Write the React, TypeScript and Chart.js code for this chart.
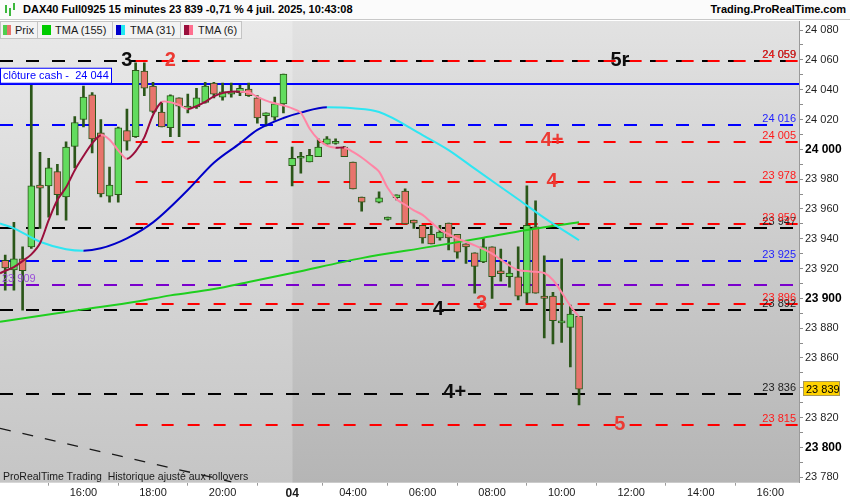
import React, { useEffect, useRef } from 'react';
import { Chart, registerables } from 'chart.js';

Chart.register(...registerables);

const FONT = '"Liberation Sans", Arial, sans-serif';

// 15 min candles, index 0 = 3 juil. 13:45 ... index 66 = 4 juil. 10:30 (42 = no quote)
const opens = [23925.5, 23919, 23926.5, 23934.5, 23976, 23975.5, 23985, 23968, 24002, 24020, 24036.5, 24011, 23968.5, 23969.5, 24012.5, 24008.5, 24052.5, 24042.5, 24025, 24014.5, 24034.5, 24027.5, 24028.5, 24031.5, 24044.5, 24035, 24037, 24038, 24040.5, 24034.5, 24022.5, 24021.5, 24030.5, 23989, 23994, 23991.5, 23995, 24003.5, 24004, 24001.5, 23991.5, 23968, null, 23964.5, 23953, 23967.5, 23972, 23952.5, 23949, 23943, 23940.5, 23950.5, 23943, 23936.5, 23930.5, 23924.5, 23934.5, 23918.5, 23914.5, 23914.5, 23903.5, 23948, 23901.5, 23901.5, 23883.5, 23880.5, 23888];
const highs = [23929, 23951, 23934.5, 24043, 23998, 23994, 23990, 24005, 24022, 24042.5, 24038, 24020, 23988, 24015, 24027, 24058, 24058, 24045, 24031, 24036.5, 24034.5, 24037, 24041, 24045, 24045, 24044.5, 24044.5, 24043, 24044.5, 24036, 24024.5, 24035, 24050.5, 24001.5, 23998, 24000, 24007, 24008.5, 24007, 24002, 23991.5, 23968, null, 23971.5, 23954.5, 23969.5, 23973.5, 23952.5, 23949, 23948.5, 23949, 23950.5, 23943, 23936.5, 23930.5, 23941, 23934.5, 23933, 23924.5, 23934.5, 23975.5, 23965.5, 23928.5, 23904, 23926.5, 23895.5, 23888];
const lows = [23905.5, 23905.5, 23892, 23933.5, 23947, 23954.5, 23956, 23952.5, 23987.5, 24015, 23997.5, 23968, 23964.5, 23964.5, 23999.5, 24008, 24036, 24024.5, 24015, 24008.5, 24008.5, 24024.5, 24027.5, 24031, 24034.5, 24033, 24035, 24036, 24035.5, 24017.5, 24015.5, 24019.5, 24024.5, 23975.5, 23984, 23991.5, 23995, 24003.5, 24003.5, 23995, 23973.5, 23958.5, null, 23964, 23952.5, 23966, 23950, 23947, 23937, 23936.5, 23939, 23932.5, 23927, 23923.5, 23903.5, 23924, 23900, 23911.5, 23907.5, 23899, 23897, 23903.5, 23873.5, 23869.5, 23870.5, 23854, 23828.5];
const closes = [23920.5, 23926.5, 23918.5, 23975.5, 23974, 23987.5, 23969.5, 24001.5, 24018, 24035, 24007, 23970, 23976, 24014.5, 24005.5, 24053, 24041, 24025.5, 24015, 24036, 24029, 24029, 24034.5, 24042.5, 24037, 24038.5, 24039, 24041, 24036, 24021, 24024.5, 24030.5, 24050.5, 23994, 23994, 23996, 24001.5, 24007, 24004, 23995, 23973.5, 23964.5, null, 23967.5, 23954.5, 23969.5, 23950, 23950.5, 23940.5, 23936.5, 23944.5, 23940.5, 23931, 23934.5, 23921.5, 23934.5, 23914.5, 23916.5, 23917, 23901.5, 23949, 23903.5, 23900, 23885, 23883.5, 23889.5, 23839];

// moving averages (x = candle index)
const tma155Idx = [-0.6, 0, 9, 15, 19, 24, 28, 33, 41, 49, 55, 60, 66];
const tma155 = [23884.3, 23884.8, 23892.6, 23897.7, 23902, 23906.3, 23911, 23917, 23927, 23934.7, 23940.7, 23945.8, 23951.1];
const tma31Idx = [-0.6, 1, 4, 7, 9, 11, 14, 17, 21, 24, 27, 29, 32, 34, 37, 40, 43, 48, 51, 54, 59, 62, 66];
const tma31 = [23950.3, 23947, 23938, 23933, 23932, 23933.6, 23940.3, 23951, 23972.7, 23991, 24004, 24013, 24021, 24024.6, 24028.2, 24027.5, 24025, 24009.5, 23999.5, 23987, 23966.5, 23954, 23939];
const tma6Edge = 23916.8;
const tma6 = [23918.5, 23921, 23925, 23929.5, 23937, 23952.5, 23966, 23974.5, 23986, 23995.5, 24004, 24009.5, 24006.5, 23999.3, 23993.6, 23998.6, 24008, 24023, 24031.8, 24031.6, 24029.7, 24027, 24029, 24031.9, 24035.5, 24037.8, 24038.6, 24038.7, 24038.3, 24035.2, 24032.7, 24030.9, 24029.4, 24027.5, 24024.5, 24014, 24006.7, 24002.5, 24001, 24001.2, 23998.3, 23994.5, 23990, 23985, 23974, 23966.5, 23962.8, 23959, 23956, 23951, 23946, 23943, 23940, 23938, 23935.5, 23933, 23930, 23926, 23922, 23919, 23918.3, 23917.8, 23917, 23912.3, 23904, 23895, 23887.5];

const trendIdx = [-0.6, 26];
const trendVal = [23812.8, 23776.9];

const timeTickIdx = [9, 17, 25, 33, 40, 48, 56, 64, 72, 80, 88];
const timeTickLabels = ['16:00', '18:00', '20:00', '04', '04:00', '06:00', '08:00', '10:00', '12:00', '14:00', '16:00'];

const blackLevels = [24059, 23947, 23892, 23836];
const redLevels = [24059, 24005, 23978, 23950, 23896, 23815];
const blueLevels = [24016, 23925];
const purpleLevels = [23909];
const cashClose = 24044;
const lastPrice = 23839;
const redStartIdx = 15;
const dayStartIdx = 33;

const waveText = ['3', '2', '5r', '4+', '4', '3', '4', '4+', '5'];
const waveIdx = [14, 19, 70.7, 62.9, 62.9, 54.8, 49.8, 51.7, 70.7];
const waveLevel = [24059, 24059, 24059, 24005, 23978, 23896, 23892, 23836, 23815];
const waveRed = [false, true, false, true, true, true, false, false, true];

const fmt = (v: number) => Math.round(v).toString().replace(/\B(?=(\d{3})+(?!\d))/g, ' ');

const bgPlugin = {
    id: 'bg',
    beforeDraw(chart: any) {
        const { ctx, chartArea: a, scales } = chart;
        ctx.save();
        ctx.fillStyle = '#ffffff';
        ctx.fillRect(0, 0, chart.width, chart.height);
        const xd = scales.x.getPixelForValue(dayStartIdx);
        const g1 = ctx.createLinearGradient(0, a.top, 0, a.bottom);
        g1.addColorStop(0, '#e9e9e9');
        g1.addColorStop(1, '#c5c5c5');
        ctx.fillStyle = g1;
        ctx.fillRect(a.left, a.top, xd - a.left, a.bottom - a.top);
        const g2 = ctx.createLinearGradient(0, a.top, 0, a.bottom);
        g2.addColorStop(0, '#e2e2e2');
        g2.addColorStop(1, '#b5b5b5');
        ctx.fillStyle = g2;
        ctx.fillRect(xd, a.top, a.right - xd, a.bottom - a.top);
        ctx.restore();
    }
};

const levelsPlugin = {
    id: 'levels',
    beforeDatasetsDraw(chart: any) {
        const { ctx, chartArea: a, scales } = chart;
        const y = scales.y;
        const line = (v: number, x0: number, color: string, dash: number[]) => {
            const py = Math.round(y.getPixelForValue(v));
            ctx.strokeStyle = color;
            ctx.setLineDash(dash);
            ctx.beginPath();
            ctx.moveTo(x0, py);
            ctx.lineTo(a.right, py);
            ctx.stroke();
        };
        ctx.save();
        ctx.lineWidth = 2;
        blackLevels.forEach(v => line(v, a.left, '#000000', [13, 13]));
        blueLevels.forEach(v => line(v, a.left, '#0000ff', [13, 13]));
        purpleLevels.forEach(v => line(v, a.left, '#7a00cc', [13, 13]));
        const xr = scales.x.getPixelForValue(redStartIdx);
        redLevels.forEach(v => line(v, xr, '#ff0000', [12, 14]));
        line(cashClose, a.left, '#0000ff', []);
        ctx.restore();
    }
};

const annotPlugin = {
    id: 'annot',
    afterDraw(chart: any) {
        const { ctx, chartArea: a, scales } = chart;
        const x = scales.x;
        const y = scales.y;
        ctx.save();
        // value labels at the right end of the levels
        ctx.font = `11px ${FONT}`;
        ctx.textAlign = 'right';
        ctx.textBaseline = 'alphabetic';
        const rLabel = (v: number, color: string) => {
            ctx.fillStyle = color;
            ctx.fillText(fmt(v), a.right - 3, y.getPixelForValue(v) - 3);
        };
        blackLevels.forEach(v => rLabel(v, '#1e1e1e'));
        blueLevels.forEach(v => rLabel(v, '#1f1fff'));
        redLevels.forEach(v => rLabel(v, '#ff1a1a'));
        ctx.textAlign = 'left';
        purpleLevels.forEach(v => {
            ctx.fillStyle = '#9a4fd8';
            ctx.fillText(fmt(v), 2, y.getPixelForValue(v) - 3);
        });

        // cash close box
        const yc = y.getPixelForValue(cashClose);
        ctx.fillStyle = '#ffffff';
        ctx.fillRect(0.5, yc - 15.5, 111, 15);
        ctx.strokeStyle = '#0000ff';
        ctx.lineWidth = 1;
        ctx.strokeRect(0.5, yc - 15.5, 111, 15);
        ctx.fillStyle = '#0000ff';
        ctx.font = `11px ${FONT}`;
        ctx.textBaseline = 'middle';
        ctx.fillText('cl\u00f4ture cash -  ' + fmt(cashClose), 3, yc - 7.5);

        // wave labels
        ctx.font = `bold 20px ${FONT}`;
        ctx.textAlign = 'center';
        waveText.forEach((t, k) => {
            ctx.fillStyle = waveRed[k] ? '#ec3a33' : '#0d0d0d';
            ctx.fillText(t, x.getPixelForValue(waveIdx[k]), y.getPixelForValue(waveLevel[k]) - 1);
        });

        // last price tag on the axis
        const yp = y.getPixelForValue(lastPrice);
        ctx.fillStyle = '#ffd200';
        ctx.fillRect(803.5, Math.round(yp) - 7.5, 36, 14);
        ctx.strokeStyle = '#a8985a';
        ctx.strokeRect(803.5, Math.round(yp) - 7.5, 36, 14);
        ctx.fillStyle = '#000000';
        ctx.font = `11px ${FONT}`;
        ctx.textAlign = 'left';
        ctx.fillText(fmt(lastPrice), 806, Math.round(yp) + 0.5);
        ctx.restore();
    }
};

const tab = (left: number, width: number): React.CSSProperties => ({
    position: 'absolute', left, top: 21, width, height: 18, boxSizing: 'border-box',
    background: '#f3f3f3', border: '1px solid #c4c4c4', font: `11px ${FONT}`, color: '#1a1a1a', lineHeight: '16px'
});
const sw = (left: number, width: number, color: string): React.CSSProperties => ({
    position: 'absolute', left, top: 3, width, height: 10, background: color
});

export default function App() {
    const canvasRef = useRef<HTMLCanvasElement>(null);

    useEffect(() => {
        if (!canvasRef.current) return;
        const idx = opens.map((o, i) => i).filter(i => opens[i] !== null);
        const up = (i: number) => (closes[i] as number) >= (opens[i] as number);

        const chart = new Chart(canvasRef.current, {
            type: 'bar',
            data: {
                datasets: [
                    {
                        type: 'line',
                        data: [{ x: -0.6, y: tma6Edge }].concat(tma6.map((v, i) => ({ x: i, y: v }))),
                        borderWidth: 2,
                        pointRadius: 0,
                        tension: 0.3,
                        borderColor: '#ff85a5',
                        segment: { borderColor: (s: any) => (s.p1.parsed.y >= s.p0.parsed.y ? '#9a0f3c' : '#ff85a5') },
                        order: 0
                    } as any,
                    {
                        type: 'line',
                        data: tma31Idx.map((v, k) => ({ x: v, y: tma31[k] })),
                        borderWidth: 2,
                        pointRadius: 0,
                        cubicInterpolationMode: 'monotone',
                        borderColor: '#2ee6f2',
                        segment: { borderColor: (s: any) => (s.p1.parsed.y >= s.p0.parsed.y ? '#0000c8' : '#2ee6f2') },
                        order: 0
                    } as any,
                    {
                        type: 'line',
                        data: tma155Idx.map((v, k) => ({ x: v, y: tma155[k] })),
                        borderWidth: 2,
                        pointRadius: 0,
                        cubicInterpolationMode: 'monotone',
                        borderColor: '#1ecf1e',
                        order: 0
                    } as any,
                    {
                        type: 'line',
                        data: trendIdx.map((v, k) => ({ x: v, y: trendVal[k] })),
                        borderWidth: 1.3,
                        borderDash: [11, 12],
                        pointRadius: 0,
                        borderColor: '#1a1a1a',
                        order: 0
                    } as any,
                    {
                        type: 'bar',
                        data: idx.map(i => ({ x: i, y: [opens[i], closes[i]] })),
                        backgroundColor: idx.map(i => (up(i) ? '#62dc5e' : '#e8746c')),
                        borderColor: '#2b5619',
                        borderWidth: 1,
                        borderSkipped: false,
                        barThickness: 7,
                        minBarLength: 2,
                        grouped: false,
                        order: 2
                    } as any,
                    {
                        type: 'bar',
                        data: idx.map(i => ({ x: i, y: [lows[i], highs[i]] })),
                        backgroundColor: '#2b5619',
                        borderWidth: 0,
                        barThickness: 2,
                        grouped: false,
                        order: 3
                    } as any
                ]
            },
            options: {
                animation: false,
                responsive: false,
                events: [],
                layout: { padding: { top: 21, left: 0, right: 0, bottom: 0 } },
                plugins: { legend: { display: false }, tooltip: { enabled: false } },
                scales: {
                    x: {
                        type: 'linear',
                        min: -0.6,
                        max: 91.3,
                        offset: false,
                        afterBuildTicks: (s: any) => { s.ticks = timeTickIdx.map(v => ({ value: v })); },
                        afterFit: (s: any) => { s.height = 17.3; },
                        ticks: {
                            autoSkip: false,
                            maxRotation: 0,
                            padding: 1,
                            color: '#1a1a1a',
                            font: (c: any) => (c.tick && c.tick.value === dayStartIdx ? { family: FONT, size: 12, weight: 'bold' } : { family: FONT, size: 11 }),
                            callback: (v: any) => timeTickLabels[timeTickIdx.indexOf(v)] ?? ''
                        },
                        grid: { drawOnChartArea: false, tickLength: 3, color: '#9a9a9a' },
                        border: { display: false }
                    },
                    y: {
                        type: 'linear',
                        position: 'right',
                        min: 23776.3,
                        max: 24086.1,
                        afterFit: (s: any) => { s.width = 51; },
                        ticks: {
                            stepSize: 10,
                            includeBounds: false,
                            autoSkip: false,
                            padding: 2,
                            color: (c: any) => (c.tick && c.tick.value % 100 === 0 ? '#000000' : '#1e1e1e'),
                            font: (c: any) => (c.tick && c.tick.value % 100 === 0 ? { family: FONT, size: 12, weight: 'bold' } : { family: FONT, size: 11 }),
                            callback: (v: any) => (Math.round(v) % 20 === 0 ? fmt(v) : '')
                        },
                        grid: { drawOnChartArea: false, tickLength: 4, color: '#8c8c8c' },
                        border: { color: '#9a9a9a' }
                    }
                }
            } as any,
            plugins: [bgPlugin, levelsPlugin, annotPlugin]
        });

        return () => {
            chart.destroy();
        };
    }, []);

    return (
        <div style={{ position: 'fixed', left: 0, top: 0, width: 850, height: 500, overflow: 'hidden', background: '#fff' }}>
            <canvas ref={canvasRef} width={850} height={500} style={{ display: 'block' }}></canvas>
            <div style={{ position: 'absolute', left: 0, top: 0, width: 850, height: 20, boxSizing: 'border-box', background: '#fbfbfb', borderBottom: '1px solid #c8c8c8', font: `bold 11px ${FONT}`, color: '#000' }}>
                <div style={{ position: 'absolute', left: 5, top: 5, width: 2, height: 8, background: '#3cb83c' }}></div>
                <div style={{ position: 'absolute', left: 9, top: 8, width: 2, height: 8, background: '#3cb83c' }}></div>
                <div style={{ position: 'absolute', left: 13, top: 3, width: 2, height: 7, background: '#3cb83c' }}></div>
                <span style={{ position: 'absolute', left: 23, top: 3 }}>DAX40 Full0925 15 minutes 23 839 -0,71 % 4 juil. 2025, 10:43:08</span>
                <span style={{ position: 'absolute', right: 4, top: 3 }}>Trading.ProRealTime.com</span>
            </div>
            <div style={tab(0, 38)}>
                <div style={sw(2, 4, '#4fcf4f')}></div>
                <div style={sw(6, 4, '#e8746c')}></div>
                <span style={{ position: 'absolute', left: 14 }}>Prix</span>
            </div>
            <div style={tab(37, 76)}>
                <div style={sw(4, 9, '#00cc00')}></div>
                <span style={{ position: 'absolute', left: 17 }}>TMA (155)</span>
            </div>
            <div style={tab(112, 69)}>
                <div style={sw(3, 5, '#0000cc')}></div>
                <div style={sw(8, 4, '#22e8f2')}></div>
                <span style={{ position: 'absolute', left: 17 }}>TMA (31)</span>
            </div>
            <div style={tab(180, 62)}>
                <div style={sw(3, 5, '#9a0f3c')}></div>
                <div style={sw(8, 4, '#ff6f8f')}></div>
                <span style={{ position: 'absolute', left: 17 }}>TMA (6)</span>
            </div>
            <div style={{ position: 'absolute', left: 3, top: 470, font: `10.5px ${FONT}`, color: '#1a1a1a', whiteSpace: 'pre' }}>
                ProRealTime Trading  Historique ajusté aux rollovers
            </div>
        </div>
    );
}
